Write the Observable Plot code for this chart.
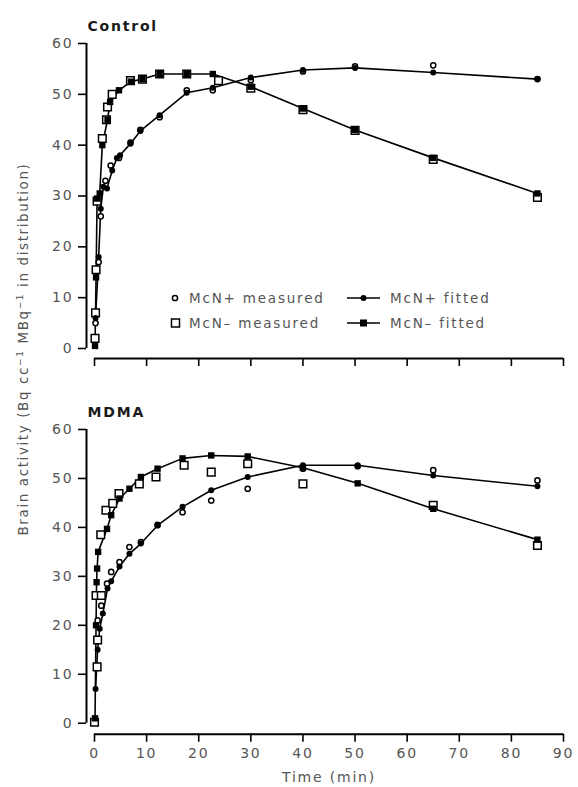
<!DOCTYPE html>
<html>
<head>
<meta charset="utf-8">
<script src="https://cdn.jsdelivr.net/npm/d3@7"></script>
<script src="https://cdn.jsdelivr.net/npm/@observablehq/plot@0.6"></script>
<style>
  html, body { margin: 0; padding: 0; background: #fff; }
  #wrap { position: relative; width: 578px; height: 787px; overflow: hidden; background: #fff; }
  #wrap svg { display: block; }
  .ylab { position: absolute; left: 23px; top: 349px; transform: translate(-50%, -50%) rotate(-90deg);
          white-space: nowrap; font-family: "DejaVu Sans", sans-serif; font-size: 13.5px; letter-spacing: 1.6px; color: #555; }
  .leg { position: absolute; font-family: "DejaVu Sans", sans-serif; font-size: 13.5px; letter-spacing: 1.8px; color: #555;
         white-space: nowrap; display: flex; align-items: center; transform: translateY(-50%); }
  .leg svg { margin-right: 7px; }
</style>
</head>
<body>
<div id="wrap"></div>
<script>
// ---------- data ----------
const panelTitles = ["Control", "MDMA"];
const seriesNames = ["McN+ measured", "McN\u2013 measured", "McN+ fitted", "McN\u2013 fitted"];
const xTicks = [0, 10, 20, 30, 40, 50, 60, 70, 80, 90];
const yTicks = [0, 10, 20, 30, 40, 50, 60];

// Control
const ctrlPlusMeasT = [0.2, 0.8, 1.2, 2.1, 3.1, 4.7, 6.9, 8.8, 12.5, 17.7, 22.7, 30, 40, 50, 65, 85];
const ctrlPlusMeasV = [5, 17, 26, 33, 36, 37.5, 40.5, 43, 45.5, 50.8, 50.8, 52.8, 54.5, 55.5, 55.7, 53];
const ctrlPlusFitT  = [0.2, 0.8, 1.2, 1.7, 2.4, 3.4, 4.3, 4.9, 6.9, 8.8, 12.5, 17.7, 22.7, 30, 40, 50, 65, 85];
const ctrlPlusFitV  = [6, 18, 27.5, 31.8, 31.5, 35, 37.5, 38, 40.3, 42.8, 45.9, 50.3, 51.3, 53.3, 54.8, 55.2, 54.3, 53];
const ctrlMinusMeasT = [0.1, 0.2, 0.3, 0.5, 1.5, 2.3, 2.5, 3.4, 6.9, 9.2, 12.5, 17.7, 23.8, 30, 40, 50, 65, 85];
const ctrlMinusMeasV = [2, 7, 15.5, 29, 41.3, 45, 47.5, 50, 52.7, 53, 54, 54, 52.7, 51.2, 47, 42.9, 37.2, 29.7];
const ctrlMinusFitT  = [0.1, 0.3, 0.5, 1, 1.5, 2.5, 3, 4.7, 7, 9.2, 12.5, 17.7, 22.7, 30, 40, 50, 65, 85];
const ctrlMinusFitV  = [0.5, 14, 29.5, 30.5, 40, 45, 48.5, 50.8, 52.5, 53, 54, 54, 54, 51.5, 47.2, 43, 37.5, 30.5];

// MDMA
const mdmaPlusMeasT = [0.6, 1.3, 2.4, 3.2, 4.8, 6.7, 8.9, 12.1, 16.9, 22.4, 29.4, 40, 50.5, 65, 85];
const mdmaPlusMeasV = [21, 24, 28.5, 30.9, 32.9, 36, 37, 40.5, 43.1, 45.5, 47.9, 52, 52.5, 51.7, 49.6];
const mdmaPlusFitT  = [0.2, 0.6, 1, 1.6, 2.5, 3.2, 4.8, 6.7, 8.9, 12.1, 16.9, 22.4, 29.4, 40, 50.5, 65, 85];
const mdmaPlusFitV  = [7, 15, 19.3, 22.4, 27.5, 29, 32, 34.6, 36.7, 40.4, 44.2, 47.6, 50.3, 52.7, 52.7, 50.6, 48.4];
const mdmaMinusMeasT = [0, 0.5, 0.6, 0.3, 1.3, 1.2, 2.2, 3.5, 4.7, 8.6, 11.8, 17.2, 22.4, 29.4, 40, 65, 85];
const mdmaMinusMeasV = [0.2, 11.5, 17, 26.1, 26.1, 38.5, 43.5, 44.9, 46.9, 48.9, 50.3, 52.7, 51.3, 53, 48.9, 44.5, 36.3];
const mdmaMinusFitT  = [0.1, 0.3, 0.4, 0.5, 0.7, 2.4, 3.2, 4.8, 6.7, 8.9, 12.1, 16.9, 22.4, 29.4, 40, 50.5, 65, 85];
const mdmaMinusFitV  = [1, 20, 28.8, 31.6, 35, 39.7, 42.5, 45.9, 47.9, 50.3, 52, 54.1, 54.7, 54.5, 52.2, 49, 43.8, 37.5];

// ---------- build ----------
const rows = (T, V) => T.map((t, i) => ({t, v: V[i]}));
const FONT = "DejaVu Sans, sans-serif";

function panel({title, pm, pf, mm, mf, height, marginTop, marginBottom, axisDy, labels}) {
  const marks = [
    Plot.ruleX([0], {y1: 0, y2: 60, dx: -8, strokeWidth: 2}),
    Plot.axisY({ticks: yTicks, tickSize: 8, dx: -8, tickPadding: 5, strokeWidth: 1.6, stroke: "black", fill: "#555", label: null}),
    Plot.ruleY([0], {x1: 0, x2: 90, dy: axisDy, strokeWidth: 2}),
    Plot.axisX({ticks: xTicks, tickSize: 8, dy: axisDy, tickPadding: 6, strokeWidth: 1.6, stroke: "black", fill: "#555",
                tickFormat: labels ? (d => String(d)) : (() => ""), label: null}),
    Plot.line(pf, {x: "t", y: "v", stroke: "black", strokeWidth: 1.6}),
    Plot.line(mf, {x: "t", y: "v", stroke: "black", strokeWidth: 1.6}),
    Plot.dot(mm, {x: "t", y: "v", symbol: "square", r: 4.3, fill: "white", stroke: "black", strokeWidth: 1.5}),
    Plot.dot(pm, {x: "t", y: "v", r: 2.6, fill: "white", stroke: "black", strokeWidth: 1.5}),
    Plot.dot(pf, {x: "t", y: "v", r: 3, fill: "black", stroke: "none"}),
    Plot.dot(mf, {x: "t", y: "v", symbol: "square", r: 3.6, fill: "black", stroke: "none"}),
    Plot.text([title], {frameAnchor: "top-left", textAnchor: "start", lineAnchor: "middle", dx: -7, dy: -17,
                        fontWeight: "bold", fill: "#1a1a1a", fontSize: 14, style: "letter-spacing:1.5px"})
  ];
  if (labels) {
    marks.push(Plot.text(["Time (min)"], {frameAnchor: "bottom", lineAnchor: "middle", dy: 54, fill: "#555", fontSize: 14}));
  }
  return Plot.plot({
    width: 578, height, marginLeft: 94, marginRight: 15, marginTop, marginBottom,
    x: {domain: [0, 90]}, y: {domain: [0, 60]},
    style: {fontFamily: FONT, fontSize: "14px", letterSpacing: "1.8px", background: "white", overflow: "visible"},
    marks
  });
}

const wrap = document.getElementById("wrap");
wrap.appendChild(panel({
  title: panelTitles[0],
  pm: rows(ctrlPlusMeasT, ctrlPlusMeasV), pf: rows(ctrlPlusFitT, ctrlPlusFitV),
  mm: rows(ctrlMinusMeasT, ctrlMinusMeasV), mf: rows(ctrlMinusFitT, ctrlMinusFitV),
  height: 375, marginTop: 43, marginBottom: 27, axisDy: 10, labels: false
}));
wrap.appendChild(panel({
  title: panelTitles[1],
  pm: rows(mdmaPlusMeasT, mdmaPlusMeasV), pf: rows(mdmaPlusFitT, mdmaPlusFitV),
  mm: rows(mdmaMinusMeasT, mdmaMinusMeasV), mf: rows(mdmaMinusFitT, mdmaMinusFitV),
  height: 412, marginTop: 54, marginBottom: 64.3, axisDy: 11, labels: true
}));

// y-axis label
const yl = document.createElement("div");
yl.className = "ylab";
yl.innerHTML = "Brain activity (Bq cc<sup style='font-size:9px'>\u22121</sup> MBq<sup style='font-size:9px'>\u22121</sup> in distribution)";
wrap.appendChild(yl);

// legend
const legendPos = [{x: 170, y: 298}, {x: 170, y: 323}, {x: 347, y: 298}, {x: 347, y: 323}];
const legendSym = [
  "<svg width='12' height='12'><circle cx='5' cy='6' r='2.6' fill='white' stroke='black' stroke-width='1.5'/></svg>",
  "<svg width='12' height='12'><rect x='1.5' y='2' width='8' height='8' fill='white' stroke='black' stroke-width='1.5'/></svg>",
  "<svg width='36' height='12'><line x1='0' y1='6' x2='33' y2='6' stroke='black' stroke-width='1.6'/><circle cx='16.5' cy='6' r='3' fill='black'/></svg>",
  "<svg width='36' height='12'><line x1='0' y1='6' x2='33' y2='6' stroke='black' stroke-width='1.6'/><rect x='13' y='2.5' width='7' height='7' fill='black'/></svg>"
];
seriesNames.forEach((name, i) => {
  const d = document.createElement("div");
  d.className = "leg";
  d.style.left = legendPos[i].x + "px";
  d.style.top = legendPos[i].y + "px";
  d.innerHTML = legendSym[i] + "<span>" + name + "</span>";
  wrap.appendChild(d);
});
</script>
</body>
</html>
